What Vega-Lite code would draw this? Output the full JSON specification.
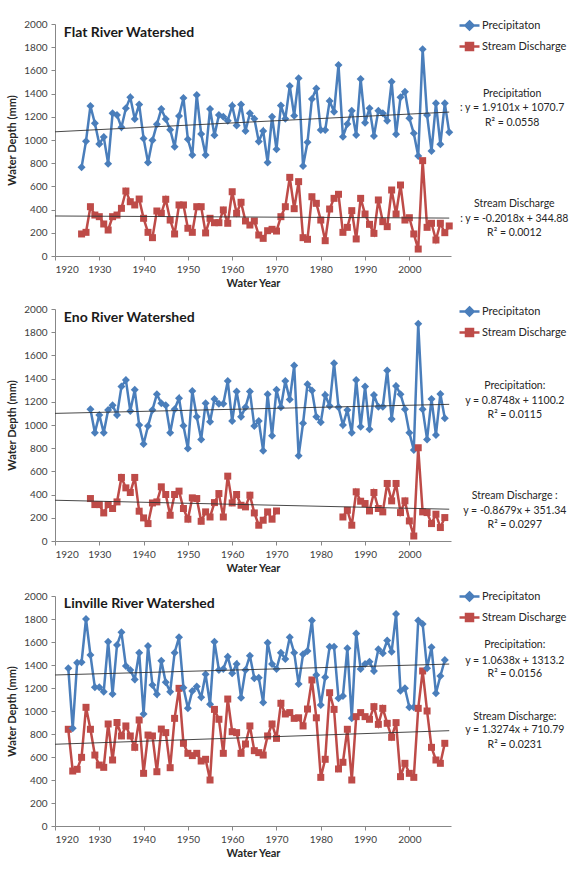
{
  "$schema": "https://vega.github.io/schema/vega-lite/v6.json",
  "background": "white",
  "padding": {"left": 6, "top": 14, "right": 5, "bottom": 5},
  "spacing": 12,
  "config": {
    "font": "Lato",
    "view": {"stroke": null},
    "axis": {"grid": false, "domainColor": "#878787", "tickColor": "#878787", "tickSize": 4, "labelFontSize": 10, "labelColor": "#404040", "titleFontSize": 11, "titleFontWeight": "bold", "titleColor": "#262626", "labelPadding": 4},
    "axisX": {"titlePadding": 3},
    "axisY": {"titlePadding": 6}
  },
  "datasets": {
    "flat": [
      {"year":1926,"Precipitaton":765,"Stream Discharge":190},{"year":1927,"Precipitaton":990,"Stream Discharge":204},{"year":1928,"Precipitaton":1293,"Stream Discharge":425},{"year":1929,"Precipitaton":1144,"Stream Discharge":353},{"year":1930,"Precipitaton":965,"Stream Discharge":339},{"year":1931,"Precipitaton":1026,"Stream Discharge":276},{"year":1932,"Precipitaton":796,"Stream Discharge":224},{"year":1933,"Precipitaton":1230,"Stream Discharge":339},{"year":1934,"Precipitaton":1215,"Stream Discharge":353},{"year":1935,"Precipitaton":1109,"Stream Discharge":411},{"year":1936,"Precipitaton":1273,"Stream Discharge":560},{"year":1937,"Precipitaton":1368,"Stream Discharge":468},{"year":1938,"Precipitaton":1181,"Stream Discharge":440},{"year":1939,"Precipitaton":1307,"Stream Discharge":491},{"year":1940,"Precipitaton":1014,"Stream Discharge":325},{"year":1941,"Precipitaton":807,"Stream Discharge":204},{"year":1942,"Precipitaton":997,"Stream Discharge":158},{"year":1943,"Precipitaton":1135,"Stream Discharge":388},{"year":1944,"Precipitaton":1267,"Stream Discharge":368},{"year":1945,"Precipitaton":1181,"Stream Discharge":489},{"year":1946,"Precipitaton":1089,"Stream Discharge":310},{"year":1947,"Precipitaton":942,"Stream Discharge":190},{"year":1948,"Precipitaton":1207,"Stream Discharge":440},{"year":1949,"Precipitaton":1362,"Stream Discharge":440},{"year":1950,"Precipitaton":1006,"Stream Discharge":239},{"year":1951,"Precipitaton":871,"Stream Discharge":204},{"year":1952,"Precipitaton":1388,"Stream Discharge":425},{"year":1953,"Precipitaton":1052,"Stream Discharge":425},{"year":1954,"Precipitaton":871,"Stream Discharge":199},{"year":1955,"Precipitaton":1267,"Stream Discharge":325},{"year":1956,"Precipitaton":1040,"Stream Discharge":287},{"year":1957,"Precipitaton":1215,"Stream Discharge":287},{"year":1958,"Precipitaton":1201,"Stream Discharge":397},{"year":1959,"Precipitaton":1167,"Stream Discharge":282},{"year":1960,"Precipitaton":1296,"Stream Discharge":554},{"year":1961,"Precipitaton":1124,"Stream Discharge":368},{"year":1962,"Precipitaton":1307,"Stream Discharge":463},{"year":1963,"Precipitaton":1078,"Stream Discharge":302},{"year":1964,"Precipitaton":1230,"Stream Discharge":267},{"year":1965,"Precipitaton":1184,"Stream Discharge":302},{"year":1966,"Precipitaton":987,"Stream Discharge":181},{"year":1967,"Precipitaton":1078,"Stream Discharge":152},{"year":1968,"Precipitaton":807,"Stream Discharge":218},{"year":1969,"Precipitaton":1201,"Stream Discharge":230},{"year":1970,"Precipitaton":920,"Stream Discharge":215},{"year":1971,"Precipitaton":1297,"Stream Discharge":339},{"year":1972,"Precipitaton":1183,"Stream Discharge":425},{"year":1973,"Precipitaton":1466,"Stream Discharge":678},{"year":1974,"Precipitaton":1210,"Stream Discharge":408},{"year":1975,"Precipitaton":1533,"Stream Discharge":641},{"year":1976,"Precipitaton":776,"Stream Discharge":158},{"year":1977,"Precipitaton":980,"Stream Discharge":144},{"year":1978,"Precipitaton":1353,"Stream Discharge":511},{"year":1979,"Precipitaton":1445,"Stream Discharge":454},{"year":1980,"Precipitaton":1086,"Stream Discharge":310},{"year":1981,"Precipitaton":1086,"Stream Discharge":132},{"year":1982,"Precipitaton":1336,"Stream Discharge":405},{"year":1983,"Precipitaton":1244,"Stream Discharge":497},{"year":1984,"Precipitaton":1647,"Stream Discharge":532},{"year":1985,"Precipitaton":1029,"Stream Discharge":204},{"year":1986,"Precipitaton":1138,"Stream Discharge":247},{"year":1987,"Precipitaton":1253,"Stream Discharge":391},{"year":1988,"Precipitaton":1043,"Stream Discharge":147},{"year":1989,"Precipitaton":1526,"Stream Discharge":497},{"year":1990,"Precipitaton":1149,"Stream Discharge":362},{"year":1991,"Precipitaton":1273,"Stream Discharge":273},{"year":1992,"Precipitaton":1034,"Stream Discharge":195},{"year":1993,"Precipitaton":1253,"Stream Discharge":483},{"year":1994,"Precipitaton":1230,"Stream Discharge":296},{"year":1995,"Precipitaton":1167,"Stream Discharge":253},{"year":1996,"Precipitaton":1503,"Stream Discharge":569},{"year":1997,"Precipitaton":1049,"Stream Discharge":362},{"year":1998,"Precipitaton":1368,"Stream Discharge":612},{"year":1999,"Precipitaton":1416,"Stream Discharge":310},{"year":2000,"Precipitaton":1187,"Stream Discharge":330},{"year":2001,"Precipitaton":1058,"Stream Discharge":190},{"year":2002,"Precipitaton":862,"Stream Discharge":60},{"year":2003,"Precipitaton":1782,"Stream Discharge":822},{"year":2004,"Precipitaton":1215,"Stream Discharge":247},{"year":2005,"Precipitaton":905,"Stream Discharge":282},{"year":2006,"Precipitaton":1316,"Stream Discharge":138},{"year":2007,"Precipitaton":963,"Stream Discharge":282},{"year":2008,"Precipitaton":1316,"Stream Discharge":201},{"year":2009,"Precipitaton":1066,"Stream Discharge":259}
    ],
    "eno": [
      {"year":1928,"Precipitaton":1136,"Stream Discharge":366},{"year":1929,"Precipitaton":934,"Stream Discharge":314},{"year":1930,"Precipitaton":1087,"Stream Discharge":314},{"year":1931,"Precipitaton":934,"Stream Discharge":242},{"year":1932,"Precipitaton":1130,"Stream Discharge":314},{"year":1933,"Precipitaton":1170,"Stream Discharge":280},{"year":1934,"Precipitaton":1087,"Stream Discharge":337},{"year":1935,"Precipitaton":1331,"Stream Discharge":548},{"year":1936,"Precipitaton":1389,"Stream Discharge":458},{"year":1937,"Precipitaton":1121,"Stream Discharge":418},{"year":1938,"Precipitaton":1303,"Stream Discharge":548},{"year":1939,"Precipitaton":1000,"Stream Discharge":257},{"year":1940,"Precipitaton":836,"Stream Discharge":199},{"year":1941,"Precipitaton":991,"Stream Discharge":150},{"year":1942,"Precipitaton":1130,"Stream Discharge":328},{"year":1943,"Precipitaton":1265,"Stream Discharge":337},{"year":1944,"Precipitaton":1188,"Stream Discharge":467},{"year":1945,"Precipitaton":1170,"Stream Discharge":401},{"year":1946,"Precipitaton":934,"Stream Discharge":222},{"year":1947,"Precipitaton":1136,"Stream Discharge":401},{"year":1948,"Precipitaton":1231,"Stream Discharge":430},{"year":1949,"Precipitaton":994,"Stream Discharge":280},{"year":1950,"Precipitaton":798,"Stream Discharge":188},{"year":1951,"Precipitaton":1294,"Stream Discharge":372},{"year":1952,"Precipitaton":1072,"Stream Discharge":366},{"year":1953,"Precipitaton":876,"Stream Discharge":170},{"year":1954,"Precipitaton":1188,"Stream Discharge":251},{"year":1955,"Precipitaton":1029,"Stream Discharge":207},{"year":1956,"Precipitaton":1225,"Stream Discharge":331},{"year":1957,"Precipitaton":1184,"Stream Discharge":409},{"year":1958,"Precipitaton":1184,"Stream Discharge":207},{"year":1959,"Precipitaton":1380,"Stream Discharge":559},{"year":1960,"Precipitaton":1034,"Stream Discharge":328},{"year":1961,"Precipitaton":1288,"Stream Discharge":401},{"year":1962,"Precipitaton":1072,"Stream Discharge":308},{"year":1963,"Precipitaton":1153,"Stream Discharge":294},{"year":1964,"Precipitaton":1288,"Stream Discharge":395},{"year":1965,"Precipitaton":991,"Stream Discharge":242},{"year":1966,"Precipitaton":1034,"Stream Discharge":136},{"year":1967,"Precipitaton":778,"Stream Discharge":179},{"year":1968,"Precipitaton":1265,"Stream Discharge":251},{"year":1969,"Precipitaton":908,"Stream Discharge":188},{"year":1970,"Precipitaton":1303,"Stream Discharge":259},{"year":1971,"Precipitaton":1153,"Stream Discharge":null},{"year":1972,"Precipitaton":1380,"Stream Discharge":null},{"year":1973,"Precipitaton":1219,"Stream Discharge":null},{"year":1974,"Precipitaton":1513,"Stream Discharge":null},{"year":1975,"Precipitaton":735,"Stream Discharge":null},{"year":1976,"Precipitaton":1015,"Stream Discharge":null},{"year":1977,"Precipitaton":1352,"Stream Discharge":null},{"year":1978,"Precipitaton":1297,"Stream Discharge":null},{"year":1979,"Precipitaton":1072,"Stream Discharge":null},{"year":1980,"Precipitaton":1023,"Stream Discharge":null},{"year":1981,"Precipitaton":1259,"Stream Discharge":null},{"year":1982,"Precipitaton":1164,"Stream Discharge":null},{"year":1983,"Precipitaton":1533,"Stream Discharge":null},{"year":1984,"Precipitaton":1153,"Stream Discharge":null},{"year":1985,"Precipitaton":1000,"Stream Discharge":207},{"year":1986,"Precipitaton":1130,"Stream Discharge":265},{"year":1987,"Precipitaton":934,"Stream Discharge":136},{"year":1988,"Precipitaton":1389,"Stream Discharge":424},{"year":1989,"Precipitaton":985,"Stream Discharge":343},{"year":1990,"Precipitaton":1331,"Stream Discharge":323},{"year":1991,"Precipitaton":963,"Stream Discharge":259},{"year":1992,"Precipitaton":1259,"Stream Discharge":418},{"year":1993,"Precipitaton":1158,"Stream Discharge":280},{"year":1994,"Precipitaton":1158,"Stream Discharge":251},{"year":1995,"Precipitaton":1469,"Stream Discharge":496},{"year":1996,"Precipitaton":1052,"Stream Discharge":346},{"year":1997,"Precipitaton":1337,"Stream Discharge":496},{"year":1998,"Precipitaton":1265,"Stream Discharge":245},{"year":1999,"Precipitaton":1136,"Stream Discharge":346},{"year":2000,"Precipitaton":934,"Stream Discharge":173},{"year":2001,"Precipitaton":784,"Stream Discharge":43},{"year":2002,"Precipitaton":1873,"Stream Discharge":804},{"year":2003,"Precipitaton":1136,"Stream Discharge":251},{"year":2004,"Precipitaton":876,"Stream Discharge":245},{"year":2005,"Precipitaton":1225,"Stream Discharge":150},{"year":2006,"Precipitaton":914,"Stream Discharge":231},{"year":2007,"Precipitaton":1268,"Stream Discharge":116},{"year":2008,"Precipitaton":1058,"Stream Discharge":202}
    ],
    "linville": [
      {"year":1923,"Precipitaton":1371,"Stream Discharge":841},{"year":1924,"Precipitaton":849,"Stream Discharge":478},{"year":1925,"Precipitaton":1420,"Stream Discharge":493},{"year":1926,"Precipitaton":1425,"Stream Discharge":597},{"year":1927,"Precipitaton":1800,"Stream Discharge":1032},{"year":1928,"Precipitaton":1487,"Stream Discharge":841},{"year":1929,"Precipitaton":1206,"Stream Discharge":617},{"year":1930,"Precipitaton":1206,"Stream Discharge":530},{"year":1931,"Precipitaton":1168,"Stream Discharge":510},{"year":1932,"Precipitaton":1603,"Stream Discharge":887},{"year":1933,"Precipitaton":1148,"Stream Discharge":574},{"year":1934,"Precipitaton":1574,"Stream Discharge":900},{"year":1935,"Precipitaton":1684,"Stream Discharge":783},{"year":1936,"Precipitaton":1391,"Stream Discharge":870},{"year":1937,"Precipitaton":1357,"Stream Discharge":783},{"year":1938,"Precipitaton":1275,"Stream Discharge":684},{"year":1939,"Precipitaton":1507,"Stream Discharge":922},{"year":1940,"Precipitaton":974,"Stream Discharge":458},{"year":1941,"Precipitaton":1565,"Stream Discharge":791},{"year":1942,"Precipitaton":1226,"Stream Discharge":783},{"year":1943,"Precipitaton":1145,"Stream Discharge":472},{"year":1944,"Precipitaton":1438,"Stream Discharge":843},{"year":1945,"Precipitaton":1249,"Stream Discharge":812},{"year":1946,"Precipitaton":1168,"Stream Discharge":507},{"year":1947,"Precipitaton":1507,"Stream Discharge":936},{"year":1948,"Precipitaton":1641,"Stream Discharge":1197},{"year":1949,"Precipitaton":1203,"Stream Discharge":719},{"year":1950,"Precipitaton":1023,"Stream Discharge":632},{"year":1951,"Precipitaton":1174,"Stream Discharge":612},{"year":1952,"Precipitaton":1212,"Stream Discharge":632},{"year":1953,"Precipitaton":1119,"Stream Discharge":565},{"year":1954,"Precipitaton":1319,"Stream Discharge":580},{"year":1955,"Precipitaton":1058,"Stream Discharge":400},{"year":1956,"Precipitaton":1603,"Stream Discharge":1014},{"year":1957,"Precipitaton":1357,"Stream Discharge":928},{"year":1958,"Precipitaton":1365,"Stream Discharge":632},{"year":1959,"Precipitaton":1472,"Stream Discharge":1104},{"year":1960,"Precipitaton":1328,"Stream Discharge":820},{"year":1961,"Precipitaton":1409,"Stream Discharge":812},{"year":1962,"Precipitaton":1116,"Stream Discharge":632},{"year":1963,"Precipitaton":1357,"Stream Discharge":713},{"year":1964,"Precipitaton":1481,"Stream Discharge":870},{"year":1965,"Precipitaton":1284,"Stream Discharge":655},{"year":1966,"Precipitaton":1290,"Stream Discharge":638},{"year":1967,"Precipitaton":1075,"Stream Discharge":617},{"year":1968,"Precipitaton":1594,"Stream Discharge":783},{"year":1969,"Precipitaton":1409,"Stream Discharge":887},{"year":1970,"Precipitaton":1365,"Stream Discharge":762},{"year":1971,"Precipitaton":1507,"Stream Discharge":1067},{"year":1972,"Precipitaton":1452,"Stream Discharge":974},{"year":1973,"Precipitaton":1641,"Stream Discharge":986},{"year":1974,"Precipitaton":1507,"Stream Discharge":936},{"year":1975,"Precipitaton":1235,"Stream Discharge":941},{"year":1976,"Precipitaton":1493,"Stream Discharge":870},{"year":1977,"Precipitaton":1522,"Stream Discharge":1017},{"year":1978,"Precipitaton":1786,"Stream Discharge":1270},{"year":1979,"Precipitaton":1313,"Stream Discharge":941},{"year":1980,"Precipitaton":1052,"Stream Discharge":423},{"year":1981,"Precipitaton":1293,"Stream Discharge":580},{"year":1982,"Precipitaton":1559,"Stream Discharge":1159},{"year":1983,"Precipitaton":1559,"Stream Discharge":1014},{"year":1984,"Precipitaton":1110,"Stream Discharge":496},{"year":1985,"Precipitaton":1130,"Stream Discharge":554},{"year":1986,"Precipitaton":1545,"Stream Discharge":841},{"year":1987,"Precipitaton":936,"Stream Discharge":400},{"year":1988,"Precipitaton":1675,"Stream Discharge":951},{"year":1989,"Precipitaton":1365,"Stream Discharge":986},{"year":1990,"Precipitaton":1409,"Stream Discharge":951},{"year":1991,"Precipitaton":1429,"Stream Discharge":928},{"year":1992,"Precipitaton":1348,"Stream Discharge":1038},{"year":1993,"Precipitaton":1536,"Stream Discharge":884},{"year":1994,"Precipitaton":1502,"Stream Discharge":1023},{"year":1995,"Precipitaton":1612,"Stream Discharge":893},{"year":1996,"Precipitaton":1516,"Stream Discharge":771},{"year":1997,"Precipitaton":1843,"Stream Discharge":899},{"year":1998,"Precipitaton":1177,"Stream Discharge":429},{"year":1999,"Precipitaton":1197,"Stream Discharge":545},{"year":2000,"Precipitaton":1032,"Stream Discharge":458},{"year":2001,"Precipitaton":1032,"Stream Discharge":423},{"year":2002,"Precipitaton":1786,"Stream Discharge":1023},{"year":2003,"Precipitaton":1757,"Stream Discharge":1348},{"year":2004,"Precipitaton":1371,"Stream Discharge":1000},{"year":2005,"Precipitaton":1554,"Stream Discharge":684},{"year":2006,"Precipitaton":1154,"Stream Discharge":574},{"year":2007,"Precipitaton":1304,"Stream Discharge":545},{"year":2008,"Precipitaton":1443,"Stream Discharge":719}
    ],
    "trend": [
      {"p":"F","s":"P","year":1920,"v":1070.7},{"p":"F","s":"P","year":2009,"v":1240.7},
      {"p":"F","s":"D","year":1920,"v":344.9},{"p":"F","s":"D","year":2009,"v":326.9},
      {"p":"E","s":"P","year":1920,"v":1100.2},{"p":"E","s":"P","year":2009,"v":1178.1},
      {"p":"E","s":"D","year":1920,"v":351.3},{"p":"E","s":"D","year":2009,"v":274.1},
      {"p":"L","s":"P","year":1920,"v":1313.2},{"p":"L","s":"P","year":2009,"v":1407.9},
      {"p":"L","s":"D","year":1920,"v":710.8},{"p":"L","s":"D","year":2009,"v":828.9}
    ],
    "notes": [
      {"p":"F","t":"Precipitation","year":2023.2,"v":1397},
      {"p":"F","t":": y = 1.9101x + 1070.7","year":2023.2,"v":1276},
      {"p":"F","t":"R² = 0.0558","year":2023.2,"v":1147},
      {"p":"F","t":"Stream Discharge","year":2023.7,"v":448},
      {"p":"F","t":": y = -0.2018x + 344.88","year":2023.7,"v":319},
      {"p":"F","t":"R² = 0.0012","year":2023.7,"v":198},
      {"p":"E","t":"Precipitation:","year":2023.8,"v":1337},
      {"p":"E","t":"y = 0.8748x + 1100.2","year":2023.8,"v":1207},
      {"p":"E","t":"R² = 0.0115","year":2023.8,"v":1086},
      {"p":"E","t":"Stream Discharge :","year":2023.8,"v":386},
      {"p":"E","t":"y = -0.8679x + 351.34","year":2023.8,"v":257},
      {"p":"E","t":"R² = 0.0297","year":2023.8,"v":136},
      {"p":"L","t":"Precipitation:","year":2023.8,"v":1574},
      {"p":"L","t":"y = 1.0638x + 1313.2","year":2023.8,"v":1435},
      {"p":"L","t":"R² = 0.0156","year":2023.8,"v":1322},
      {"p":"L","t":"Stream Discharge:","year":2023.8,"v":948},
      {"p":"L","t":"y = 1.3274x + 710.79","year":2023.8,"v":835},
      {"p":"L","t":"R² = 0.0231","year":2023.8,"v":704}
    ],
    "titles": [
      {"p":"F","t":"Flat River Watershed","year":1922,"v":1922},
      {"p":"E","t":"Eno River Watershed","year":1922,"v":1925},
      {"p":"L","t":"Linville River Watershed","year":1922,"v":1930}
    ]
  },
  "resolve": {"scale": {"color": "independent", "x": "independent", "y": "independent"}, "legend": {"color": "independent"}},
  "vconcat": [
    {
      "width": 396, "height": 232,
      "encoding": {
        "x": {"field": "year", "type": "quantitative", "scale": {"domain": [1920, 2009.4], "nice": false, "zero": false}, "axis": {"values": [1920,1930,1940,1950,1960,1970,1980,1990,2000], "format": "d", "title": "Water Year"}},
        "y": {"field": "v", "type": "quantitative", "scale": {"domain": [0, 2000], "nice": false}, "axis": {"values": [0,200,400,600,800,1000,1200,1400,1600,1800,2000], "format": "d", "title": "Water Depth (mm)"}}
      },
      "layer": [
        {"data": {"name": "flat"}, "transform": [{"fold": ["Precipitaton", "Stream Discharge"], "as": ["s", "v"]}],
         "mark": {"type": "line", "strokeWidth": 2.5, "invalid": "break-paths-show-domains"},
         "encoding": {"color": {"field": "s", "type": "nominal", "scale": {"domain": ["Precipitaton", "Stream Discharge"], "range": ["#4A7EBB", "#BE4B48"]},
           "legend": {"title": null, "orient": "none", "direction": "vertical", "legendX": 403, "legendY": -10, "symbolSize": 400, "symbolStrokeWidth": 2.5, "labelFontSize": 11, "labelColor": "#262626", "labelOffset": 1, "rowPadding": -1, "padding": 0,
             "encoding": {"symbols": {"shape": {"condition": {"test": "datum.label === 'Precipitaton'", "value": "M-1,0H1M0,-0.4L0.4,0L0,0.4L-0.4,0Z"}, "value": "M-1,0H1M-0.35,-0.35H0.35V0.35H-0.35Z"}, "fill": {"condition": {"test": "datum.label === 'Precipitaton'", "value": "#4A7EBB"}, "value": "#BE4B48"}, "strokeWidth": {"value": 2.5}}}}}}},
        {"data": {"name": "flat"}, "transform": [{"fold": ["Precipitaton", "Stream Discharge"], "as": ["s", "v"]}],
         "mark": {"type": "point", "filled": true, "opacity": 1},
         "encoding": {"color": {"condition": {"test": "datum.s === 'Precipitaton'", "value": "#4A7EBB"}, "value": "#BE4B48"},
           "shape": {"condition": {"test": "datum.s === 'Precipitaton'", "value": "diamond"}, "value": "square"},
           "size": {"condition": {"test": "datum.s === 'Precipitaton'", "value": 64}, "value": 49}}},
        {"data": {"name": "trend"}, "transform": [{"filter": "datum.p === 'F'"}], "mark": {"type": "line", "color": "#333333", "strokeWidth": 0.9}, "encoding": {"detail": {"field": "s"}}},
        {"data": {"name": "notes"}, "transform": [{"filter": "datum.p === 'F'"}], "mark": {"type": "text", "align": "center", "baseline": "middle", "fontSize": 10.5, "color": "#262626"}, "encoding": {"text": {"field": "t"}}},
        {"data": {"name": "titles"}, "transform": [{"filter": "datum.p === 'F'"}], "mark": {"type": "text", "align": "left", "baseline": "middle", "fontSize": 14, "fontWeight": "bold", "color": "#1a1a1a"}, "encoding": {"text": {"field": "t"}}}
      ]
    },
    {
      "width": 396, "height": 232,
      "encoding": {
        "x": {"field": "year", "type": "quantitative", "scale": {"domain": [1920, 2009.4], "nice": false, "zero": false}, "axis": {"values": [1920,1930,1940,1950,1960,1970,1980,1990,2000], "format": "d", "title": "Water Year"}},
        "y": {"field": "v", "type": "quantitative", "scale": {"domain": [0, 2000], "nice": false}, "axis": {"values": [0,200,400,600,800,1000,1200,1400,1600,1800,2000], "format": "d", "title": "Water Depth (mm)"}}
      },
      "layer": [
        {"data": {"name": "eno"}, "transform": [{"fold": ["Precipitaton", "Stream Discharge"], "as": ["s", "v"]}],
         "mark": {"type": "line", "strokeWidth": 2.5, "invalid": "break-paths-show-domains"},
         "encoding": {"color": {"field": "s", "type": "nominal", "scale": {"domain": ["Precipitaton", "Stream Discharge"], "range": ["#4A7EBB", "#BE4B48"]},
           "legend": {"title": null, "orient": "none", "direction": "vertical", "legendX": 403, "legendY": -9, "symbolSize": 400, "symbolStrokeWidth": 2.5, "labelFontSize": 11, "labelColor": "#262626", "labelOffset": 1, "rowPadding": -1, "padding": 0,
             "encoding": {"symbols": {"shape": {"condition": {"test": "datum.label === 'Precipitaton'", "value": "M-1,0H1M0,-0.4L0.4,0L0,0.4L-0.4,0Z"}, "value": "M-1,0H1M-0.35,-0.35H0.35V0.35H-0.35Z"}, "fill": {"condition": {"test": "datum.label === 'Precipitaton'", "value": "#4A7EBB"}, "value": "#BE4B48"}, "strokeWidth": {"value": 2.5}}}}}}},
        {"data": {"name": "eno"}, "transform": [{"fold": ["Precipitaton", "Stream Discharge"], "as": ["s", "v"]}],
         "mark": {"type": "point", "filled": true, "opacity": 1},
         "encoding": {"color": {"condition": {"test": "datum.s === 'Precipitaton'", "value": "#4A7EBB"}, "value": "#BE4B48"},
           "shape": {"condition": {"test": "datum.s === 'Precipitaton'", "value": "diamond"}, "value": "square"},
           "size": {"condition": {"test": "datum.s === 'Precipitaton'", "value": 64}, "value": 49}}},
        {"data": {"name": "trend"}, "transform": [{"filter": "datum.p === 'E'"}], "mark": {"type": "line", "color": "#333333", "strokeWidth": 0.9}, "encoding": {"detail": {"field": "s"}}},
        {"data": {"name": "notes"}, "transform": [{"filter": "datum.p === 'E'"}], "mark": {"type": "text", "align": "center", "baseline": "middle", "fontSize": 10.5, "color": "#262626"}, "encoding": {"text": {"field": "t"}}},
        {"data": {"name": "titles"}, "transform": [{"filter": "datum.p === 'E'"}], "mark": {"type": "text", "align": "left", "baseline": "middle", "fontSize": 14, "fontWeight": "bold", "color": "#1a1a1a"}, "encoding": {"text": {"field": "t"}}}
      ]
    },
    {
      "width": 396, "height": 230,
      "encoding": {
        "x": {"field": "year", "type": "quantitative", "scale": {"domain": [1920, 2009.4], "nice": false, "zero": false}, "axis": {"values": [1920,1930,1940,1950,1960,1970,1980,1990,2000], "format": "d", "title": "Water Year"}},
        "y": {"field": "v", "type": "quantitative", "scale": {"domain": [0, 2000], "nice": false}, "axis": {"values": [0,200,400,600,800,1000,1200,1400,1600,1800,2000], "format": "d", "title": "Water Depth (mm)"}}
      },
      "layer": [
        {"data": {"name": "linville"}, "transform": [{"fold": ["Precipitaton", "Stream Discharge"], "as": ["s", "v"]}],
         "mark": {"type": "line", "strokeWidth": 2.5, "invalid": "break-paths-show-domains"},
         "encoding": {"color": {"field": "s", "type": "nominal", "scale": {"domain": ["Precipitaton", "Stream Discharge"], "range": ["#4A7EBB", "#BE4B48"]},
           "legend": {"title": null, "orient": "none", "direction": "vertical", "legendX": 403, "legendY": -11, "symbolSize": 400, "symbolStrokeWidth": 2.5, "labelFontSize": 11, "labelColor": "#262626", "labelOffset": 1, "rowPadding": 0, "padding": 0,
             "encoding": {"symbols": {"shape": {"condition": {"test": "datum.label === 'Precipitaton'", "value": "M-1,0H1M0,-0.4L0.4,0L0,0.4L-0.4,0Z"}, "value": "M-1,0H1M-0.35,-0.35H0.35V0.35H-0.35Z"}, "fill": {"condition": {"test": "datum.label === 'Precipitaton'", "value": "#4A7EBB"}, "value": "#BE4B48"}, "strokeWidth": {"value": 2.5}}}}}}},
        {"data": {"name": "linville"}, "transform": [{"fold": ["Precipitaton", "Stream Discharge"], "as": ["s", "v"]}],
         "mark": {"type": "point", "filled": true, "opacity": 1},
         "encoding": {"color": {"condition": {"test": "datum.s === 'Precipitaton'", "value": "#4A7EBB"}, "value": "#BE4B48"},
           "shape": {"condition": {"test": "datum.s === 'Precipitaton'", "value": "diamond"}, "value": "square"},
           "size": {"condition": {"test": "datum.s === 'Precipitaton'", "value": 64}, "value": 49}}},
        {"data": {"name": "trend"}, "transform": [{"filter": "datum.p === 'L'"}], "mark": {"type": "line", "color": "#333333", "strokeWidth": 0.9}, "encoding": {"detail": {"field": "s"}}},
        {"data": {"name": "notes"}, "transform": [{"filter": "datum.p === 'L'"}], "mark": {"type": "text", "align": "center", "baseline": "middle", "fontSize": 10.5, "color": "#262626"}, "encoding": {"text": {"field": "t"}}},
        {"data": {"name": "titles"}, "transform": [{"filter": "datum.p === 'L'"}], "mark": {"type": "text", "align": "left", "baseline": "middle", "fontSize": 14, "fontWeight": "bold", "color": "#1a1a1a"}, "encoding": {"text": {"field": "t"}}}
      ]
    }
  ]
}
